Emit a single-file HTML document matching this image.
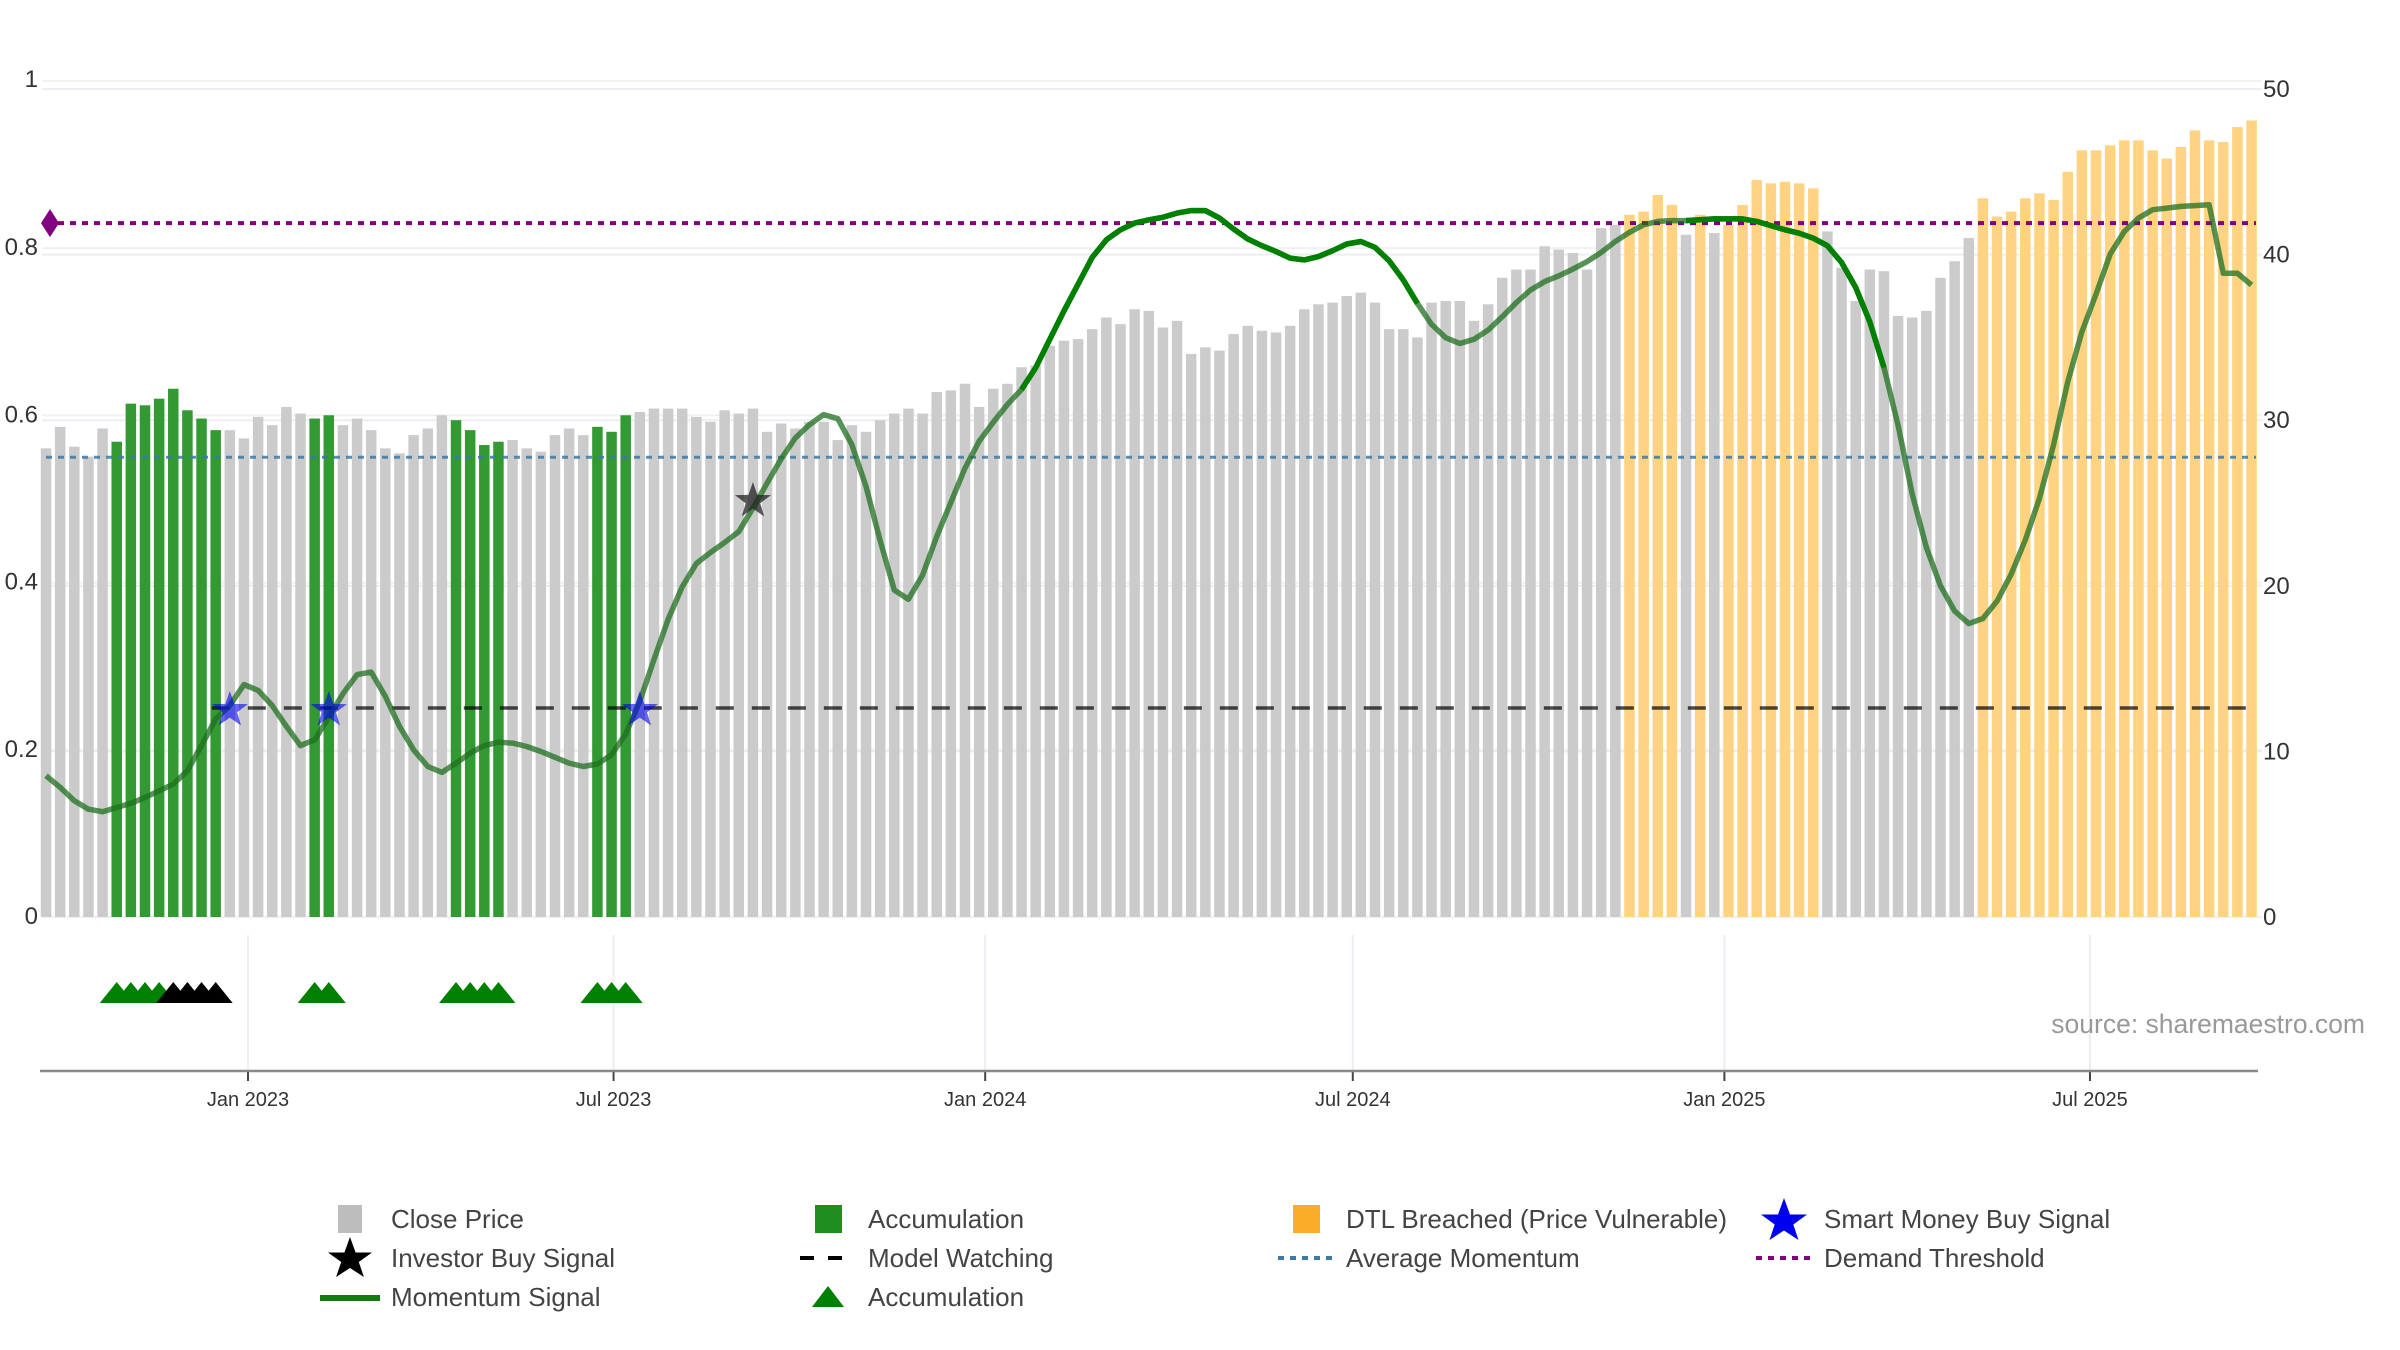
<!DOCTYPE html>
<html><head><meta charset="utf-8"><style>
html,body{margin:0;padding:0;background:#fff;}
svg{display:block;font-family:"Liberation Sans","DejaVu Sans",sans-serif;}
</style></head><body>
<svg id="chart" xmlns="http://www.w3.org/2000/svg" width="2400" height="1350" viewBox="0 0 2400 1350">
<g id="grid"></g>
<g id="bars"></g>
<g id="refs"></g>
<g id="line"></g>
<g id="marks"></g>
<g id="axes"></g>
<text x="2365" y="1033" text-anchor="end" font-size="26.5" fill="#999">source: sharemaestro.com</text>
<g id="legend" font-size="26">
 <g><rect x="338" y="1205" width="24" height="28" fill="#bdbdbd"/><text x="391" y="1228" fill="#444">Close Price</text></g>
 <g><polygon points="350,1237 355.6,1252.5 372,1252.5 358.8,1262 363.9,1277 350,1268 336.1,1277 341.2,1262 328,1252.5 344.4,1252.5" fill="#000"/><text x="391" y="1267" fill="#444">Investor Buy Signal</text></g>
 <g><line x1="320" y1="1298" x2="380" y2="1298" stroke="#117a11" stroke-width="6"/><text x="391" y="1306" fill="#444">Momentum Signal</text></g>
 <g><rect x="815" y="1205" width="27" height="28" fill="#1e8c1e"/><text x="868" y="1228" fill="#444">Accumulation</text></g>
 <g><line x1="800" y1="1258" x2="854" y2="1258" stroke="#000" stroke-width="4" stroke-dasharray="14,14"/><text x="868" y="1267" fill="#444">Model Watching</text></g>
 <g><polygon points="828,1286 844,1307 812,1307" fill="#008000"/><text x="868" y="1306" fill="#444">Accumulation</text></g>
 <g><rect x="1293" y="1205" width="27" height="28" fill="#fbad2a"/><text x="1346" y="1228" fill="#444">DTL Breached (Price Vulnerable)</text></g>
 <g><line x1="1278" y1="1258" x2="1334" y2="1258" stroke="#3a7aa6" stroke-width="4" stroke-dasharray="6,6"/><text x="1346" y="1267" fill="#444">Average Momentum</text></g>
 <g><polygon points="1784,1198 1790,1214.5 1807,1214.5 1793.3,1224.5 1798.5,1240 1784,1230.5 1769.5,1240 1774.7,1224.5 1761,1214.5 1778,1214.5" fill="#0000ee"/><text x="1824" y="1228" fill="#444">Smart Money Buy Signal</text></g>
 <g><line x1="1756" y1="1258" x2="1812" y2="1258" stroke="#800080" stroke-width="4" stroke-dasharray="6,6"/><text x="1824" y="1267" fill="#444">Demand Threshold</text></g>
</g>
</svg>
<script>
// ---- data ----
const startDate = "2022-09-23";
const prices = [28.3,29.6,28.4,27.8,29.5,28.7,31.0,30.9,31.3,31.9,30.6,30.1,29.4,29.4,28.9,30.2,29.7,30.8,30.4,30.1,
30.3,29.7,30.1,29.4,28.3,28.0,29.1,29.5,30.3,30.0,29.4,28.5,28.7,28.8,28.3,28.1,29.1,29.5,29.1,29.6,
29.3,30.3,30.5,30.7,30.7,30.7,30.2,29.9,30.6,30.4,30.7,29.3,29.8,29.5,29.9,29.9,28.8,29.7,29.3,30.0,
30.4,30.7,30.4,31.7,31.8,32.2,30.8,31.9,32.2,33.2,33.3,34.5,34.8,34.9,35.5,36.2,35.8,36.7,36.6,35.6,
36.0,34.0,34.4,34.2,35.2,35.7,35.4,35.3,35.7,36.7,37.0,37.1,37.5,37.7,37.1,35.5,35.5,35.0,37.1,37.2,
37.2,36.0,37.0,38.6,39.1,39.1,40.5,40.3,40.1,39.1,41.6,41.8,42.4,42.6,43.6,43.0,41.2,42.4,41.3,41.8,
43.0,44.5,44.3,44.4,44.3,44.0,41.4,39.2,37.2,39.1,39.0,36.3,36.2,36.6,38.6,39.6,41.0,43.4,42.3,42.6,
43.4,43.7,43.3,45.0,46.3,46.3,46.6,46.9,46.9,46.3,45.8,46.5,47.5,46.9,46.8,47.7,48.1];
const momentum = [0.169,0.155,0.139,0.129,0.126,0.131,0.136,0.143,0.151,0.159,0.175,0.205,0.237,0.253,0.278,0.271,0.253,0.228,0.205,0.212,
0.239,0.267,0.290,0.293,0.264,0.228,0.200,0.180,0.173,0.184,0.196,0.205,0.209,0.208,0.204,0.198,0.191,0.184,0.180,0.183,
0.194,0.219,0.258,0.308,0.356,0.395,0.423,0.436,0.448,0.461,0.489,0.519,0.548,0.573,0.589,0.601,0.596,0.565,0.515,0.450,
0.391,0.380,0.409,0.455,0.496,0.537,0.569,0.592,0.613,0.631,0.657,0.691,0.725,0.757,0.789,0.810,0.822,0.830,0.834,0.837,
0.842,0.845,0.845,0.836,0.823,0.811,0.803,0.796,0.788,0.786,0.790,0.797,0.805,0.808,0.801,0.785,0.762,0.734,0.709,0.693,
0.686,0.691,0.702,0.718,0.735,0.750,0.760,0.767,0.775,0.784,0.795,0.808,0.819,0.828,0.832,0.833,0.833,0.834,0.835,0.835,
0.835,0.832,0.827,0.822,0.818,0.812,0.803,0.783,0.753,0.712,0.657,0.588,0.506,0.442,0.396,0.366,0.351,0.357,0.378,0.410,
0.451,0.501,0.565,0.640,0.700,0.745,0.793,0.820,0.836,0.846,0.848,0.850,0.851,0.852,0.770,0.770,0.756];
const accumulationIdx = [5,6,7,8,9,10,11,12,19,20,29,30,31,32,39,40,41];
const dtlIdx = [112,113,114,115,117,119,120,121,122,123,124,125,137,138,139,140,141,142,143,144,145,146,147,148,149,150,151,152,153,154,155,156];
const strongIdx = [[69,97],[116,130]];
const smartMoneyIdx = [13,20,42];
const smartMoneyVal = [0.25,0.25,0.25];
const investorIdx = [50];
const investorVal = [0.5];
const triGreenIdx = [5,6,7,8,19,20,29,30,31,32,39,40,41];
const triBlackIdx = [9,10,11,12];
const avgMomentum = 0.55, demandThreshold = 0.83, modelWatching = 0.25;
const priceTicks = [0,10,20,30,40,50];
const momTicks = [0,0.2,0.4,0.6,0.8,1];
const momTickLabels = ["0","0.2","0.4","0.6","0.8","1"];
const dateTicks = ["2023-01-01","2023-07-01","2024-01-01","2024-07-01","2025-01-01","2025-07-01"];
const dateTickLabels = ["Jan 2023","Jul 2023","Jan 2024","Jul 2024","Jan 2025","Jul 2025"];

// ---- scales ----
const NS="http://www.w3.org/2000/svg";
const DAY=86400000, ORIGIN=Date.UTC(2023,0,1), PXDAY=2.0197;
function xDate(s){const d=new Date(s+"T00:00:00Z").getTime();return 248+(d-ORIGIN)/DAY*PXDAY;}
function xIdx(i){return xDate(startDate)+i*7*PXDAY;}
function yP(p){return 917-16.56*p;}
function yM(v){return 917-836*v;}
const X0=42, X1=2262;
function el(tag,attrs,parent){const e=document.createElementNS(NS,tag);for(const k in attrs)e.setAttribute(k,attrs[k]);parent.appendChild(e);return e;}
const grid=document.getElementById('grid'),bars=document.getElementById('bars'),refs=document.getElementById('refs'),
line=document.getElementById('line'),marks=document.getElementById('marks'),axes=document.getElementById('axes');

priceTicks.forEach((p)=>{
 const g=el('line',{x1:X0,x2:X1,y1:yP(p),y2:yP(p),stroke:'#eceef3','stroke-width':2},grid);
 
 
 const t=el('text',{x:2263,y:yP(p)+8,'font-size':24,fill:'#333'},axes);t.textContent=p;
 
 
});
momTicks.forEach((v,k)=>{
 const g=el('line',{x1:X0,x2:X1,y1:yM(v),y2:yM(v),stroke:'#f0f1f5','stroke-width':2},grid);
 
 
 const t=el('text',{x:38,y:yM(v)+(v===1?6:7),'font-size':24,fill:'#333','text-anchor':'end'},axes);t.textContent=momTickLabels[k];
 
 
});
dateTicks.forEach((d,k)=>{
 const x=xDate(d);
 const g=el('line',{x1:x,x2:x,y1:935,y2:1070,stroke:'#eceef3','stroke-width':2},grid);
 
 
 const tk=el('line',{x1:x,x2:x,y1:1071,y2:1081,stroke:'#444','stroke-width':2},axes);
 
 
 const t=el('text',{x:x,y:1106,'font-size':20,fill:'#333','text-anchor':'middle'},axes);t.textContent=dateTickLabels[k];
 
 
});
const ax=el('line',{x1:40,x2:2258,y1:1071,y2:1071,stroke:'#888','stroke-width':2.5},axes);



// bars
const bw=10.5;
prices.forEach((p,i)=>{
 let fill='#cbcbcb', name='bar-close-price';
 if(accumulationIdx.includes(i)){fill='#339a33';name='bar-accumulation';}
 if(dtlIdx.includes(i)){fill='#ffd382';name='bar-dtl-breached';}
 const r=el('rect',{x:xIdx(i)-bw/2,y:yP(p),width:bw,height:yP(0)-yP(p),fill:fill},bars);
 
 
});

// reference lines
const mw=el('line',{x1:xIdx(smartMoneyIdx[0])-18,x2:X1-6,y1:yM(modelWatching),y2:yM(modelWatching),stroke:'#000','stroke-opacity':0.7,'stroke-width':3.5,'stroke-dasharray':'18,18'},refs);


const am=el('line',{x1:X0+4,x2:X1-6,y1:yM(avgMomentum),y2:yM(avgMomentum),stroke:'#3a7aa6','stroke-opacity':0.85,'stroke-width':3,'stroke-dasharray':'6,6'},refs);


const dt=el('line',{x1:X0+4,x2:X1-6,y1:yM(demandThreshold),y2:yM(demandThreshold),stroke:'#800080','stroke-width':4,'stroke-dasharray':'6,6'},refs);


const yd=yM(demandThreshold);
const dm=el('polygon',{points:`${X0+8},${yd-14} ${X0+17},${yd} ${X0+8},${yd+14} ${X0-1},${yd}`,fill:'#800080'},refs);



// momentum line
const pts=momentum.map((v,i)=>xIdx(i).toFixed(1)+','+yM(v).toFixed(1));
const ml=el('polyline',{points:pts.join(' '),fill:'none',stroke:'#1f6f1f','stroke-opacity':0.75,'stroke-width':5.5,'stroke-linejoin':'round'},line);


strongIdx.forEach(([a,b])=>{
 const s=el('polyline',{points:pts.slice(a,b+1).join(' '),fill:'none',stroke:'#008000','stroke-width':5.5,'stroke-linejoin':'round'},line);
 
 
});

function star(cx,cy,R){const r=R*0.4;let a=[];for(let k=0;k<10;k++){const ang=-Math.PI/2+k*Math.PI/5;const rr=k%2?r:R;a.push((cx+rr*Math.cos(ang)).toFixed(1)+','+(cy+rr*Math.sin(ang)).toFixed(1));}return a.join(' ');}
smartMoneyIdx.forEach((i,k)=>{
 const s=el('polygon',{points:star(xIdx(i),yM(smartMoneyVal[k])+2,19),fill:'#0000ee','fill-opacity':0.6},marks);
 
 
});
investorIdx.forEach((i,k)=>{
 const s=el('polygon',{points:star(xIdx(i),yM(investorVal[k])+2,19),fill:'#222','fill-opacity':0.75},marks);
 
 
});
function tri(i,color){
 const x=xIdx(i);
 const t=el('polygon',{points:`${x},982 ${x+17},1003 ${x-17},1003`,fill:color},marks);
 
 
}
triGreenIdx.forEach(i=>tri(i,'#008000'));
triBlackIdx.forEach(i=>tri(i,'#000'));
</script>
</body></html>
